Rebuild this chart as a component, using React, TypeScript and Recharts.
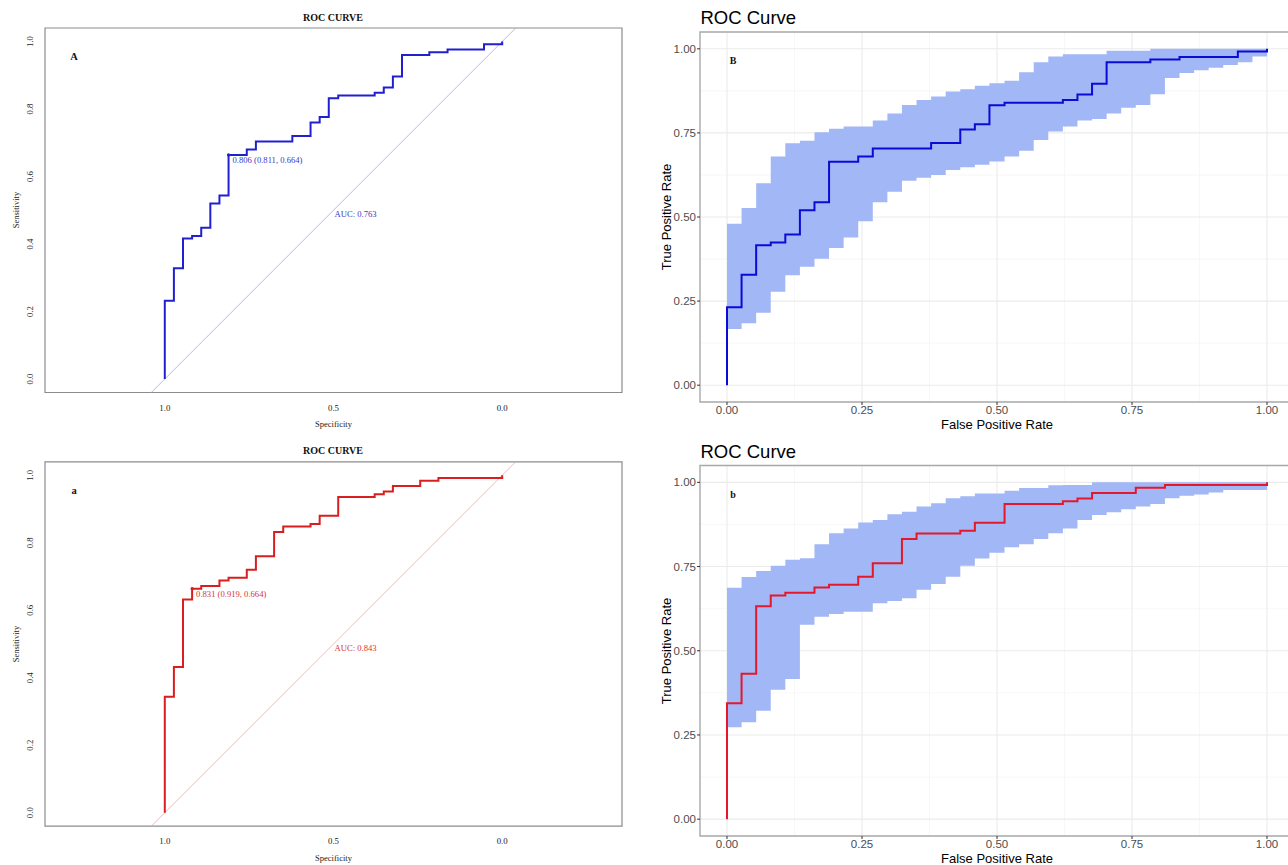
import React from 'react'
import {
  ComposedChart,
  Line,
  Area,
  XAxis,
  YAxis,
  CartesianGrid,
  ReferenceArea,
  ReferenceDot
} from 'recharts'

const SERIF = '"Liberation Serif", "Times New Roman", serif'
const SANS = '"Liberation Sans", Arial, sans-serif'

// ROC curve, model 1 (blue panels) - corners of the step curve
const fpr1 = [0, 0, 0.027, 0.054, 0.081, 0.108, 0.135, 0.162, 0.189, 0.243, 0.270, 0.378, 0.432, 0.459, 0.486, 0.514, 0.622, 0.649, 0.676, 0.703, 0.784, 0.838, 0.946, 1]
const tpr1 = [0, 0.232, 0.328, 0.416, 0.424, 0.448, 0.520, 0.544, 0.664, 0.680, 0.704, 0.720, 0.760, 0.776, 0.832, 0.840, 0.848, 0.864, 0.896, 0.960, 0.968, 0.976, 0.992, 1]

// ROC curve, model 2 (red panels)
const fpr2 = [0, 0, 0.027, 0.054, 0.081, 0.108, 0.162, 0.189, 0.243, 0.270, 0.324, 0.351, 0.432, 0.459, 0.514, 0.622, 0.649, 0.676, 0.757, 0.811, 1]
const tpr2 = [0, 0.344, 0.432, 0.632, 0.664, 0.672, 0.688, 0.696, 0.720, 0.760, 0.832, 0.848, 0.856, 0.880, 0.936, 0.944, 0.952, 0.968, 0.984, 0.992, 1]

// confidence band (ggplot ribbon), one step per negative case
const ciFpr = [0, 0.027, 0.054, 0.081, 0.108, 0.135, 0.162, 0.189, 0.216, 0.243, 0.270, 0.297, 0.324, 0.351, 0.378, 0.405, 0.432, 0.459, 0.486, 0.514, 0.541, 0.568, 0.595, 0.622, 0.649, 0.676, 0.703, 0.730, 0.757, 0.784, 0.811, 0.838, 0.865, 0.892, 0.919, 0.946, 0.973, 1]
const ciLow1 = [0.167, 0.184, 0.215, 0.278, 0.327, 0.352, 0.376, 0.408, 0.439, 0.487, 0.544, 0.575, 0.608, 0.617, 0.625, 0.640, 0.648, 0.655, 0.665, 0.680, 0.697, 0.729, 0.754, 0.769, 0.787, 0.791, 0.808, 0.825, 0.833, 0.865, 0.913, 0.928, 0.936, 0.944, 0.952, 0.960, 0.977, 0.977]
const ciHigh1 = [0.480, 0.527, 0.600, 0.680, 0.719, 0.727, 0.752, 0.762, 0.769, 0.769, 0.787, 0.808, 0.833, 0.848, 0.858, 0.873, 0.880, 0.890, 0.898, 0.905, 0.930, 0.960, 0.977, 0.984, 0.984, 0.984, 0.994, 0.994, 0.994, 1, 1, 1, 1, 1, 1, 1, 1, 1]
const ciLow2 = [0.273, 0.288, 0.322, 0.384, 0.416, 0.577, 0.601, 0.609, 0.616, 0.616, 0.641, 0.648, 0.656, 0.681, 0.698, 0.720, 0.752, 0.774, 0.791, 0.807, 0.816, 0.832, 0.849, 0.863, 0.888, 0.903, 0.911, 0.920, 0.928, 0.936, 0.953, 0.960, 0.964, 0.970, 0.977, 0.977, 0.977, 0.977]
const ciHigh2 = [0.687, 0.719, 0.737, 0.752, 0.770, 0.775, 0.816, 0.849, 0.863, 0.881, 0.888, 0.905, 0.913, 0.928, 0.938, 0.953, 0.959, 0.967, 0.967, 0.975, 0.983, 0.983, 0.991, 0.992, 0.992, 1, 1, 1, 1, 1, 1, 1, 1, 1, 1, 1, 1, 1]

// best threshold: [cutoff, specificity, sensitivity]
const best1 = [0.806, 0.811, 0.664]
const best2 = [0.831, 0.919, 0.664]
const auc1 = 0.763
const auc2 = 0.843

const specTicks = [1, 0.5, 0]
const sensTicks = [0, 0.2, 0.4, 0.6, 0.8, 1]
const rateTicks = [0, 0.25, 0.5, 0.75, 1]
const minorTicks = [0.125, 0.375, 0.625, 0.875]

const SPEC_DOMAIN: [number, number] = [-0.355, 1.355]
const SENS_DOMAIN: [number, number] = [-0.04, 1.04]
const RATE_DOMAIN: [number, number] = [-0.05, 1.05]

const Txt = ({ x, y, children, style, rotate, left }: any) => (
  <div
    style={{
      position: 'absolute',
      left: x,
      top: y,
      transform: `translate(${left ? '0' : '-50%'}, -50%)${rotate ? ' rotate(-90deg)' : ''}`,
      whiteSpace: 'nowrap',
      lineHeight: 1,
      ...style
    }}
  >
    {children}
  </div>
)

const SerifXTick = ({ x, y, payload }: any) => (
  <text x={x} y={y + 15} textAnchor="middle" dominantBaseline="central" fontFamily={SERIF} fontSize={8.8} fill="#222">
    {Number(payload.value).toFixed(1)}
  </text>
)

const SerifYTick = ({ x, y, payload }: any) => (
  <text
    x={x - 15}
    y={y}
    transform={`rotate(-90 ${x - 15} ${y})`}
    textAnchor="middle"
    dominantBaseline="central"
    fontFamily={SERIF}
    fontSize={8.8}
    fill="#222"
  >
    {Number(payload.value).toFixed(1)}
  </text>
)

type ProcProps = {
  top: number
  height: number
  plotTop: number
  axisHeight: number
  fpr: number[]
  tpr: number[]
  best: number[]
  auc: number
  letter: string
  curveColor: string
  textColor: string
  diagColor: string
}

// pROC style panel, specificity on a reversed axis
function ProcPanel({ top, height, plotTop, axisHeight, fpr, tpr, best, auc, letter, curveColor, textColor, diagColor }: ProcProps) {
  const curve = fpr.map((f, i) => ({ spec: 1 - f, sens: tpr[i] }))
  const diag = [
    { spec: 1.2, sens: -0.2 },
    { spec: -0.2, sens: 1.2 }
  ]
  const labelStyle = { fontFamily: SERIF, fontSize: 8.6, fill: textColor }
  const plotBottom = height - axisHeight

  return (
    <div style={{ position: 'absolute', left: 0, top, width: 640, height }}>
      <ComposedChart width={640} height={height} margin={{ top: plotTop, right: 18, bottom: 0, left: 0 }}>
        <XAxis
          type="number"
          dataKey="spec"
          domain={SPEC_DOMAIN}
          reversed
          allowDataOverflow
          ticks={specTicks}
          interval={0}
          tick={<SerifXTick />}
          tickSize={0}
          tickMargin={0}
          tickLine={false}
          axisLine={false}
          height={axisHeight}
        />
        <YAxis
          type="number"
          dataKey="sens"
          domain={SENS_DOMAIN}
          allowDataOverflow
          ticks={sensTicks}
          interval={0}
          tick={<SerifYTick />}
          tickSize={0}
          tickMargin={0}
          tickLine={false}
          axisLine={false}
          width={45}
        />
        <ReferenceArea
          x1={SPEC_DOMAIN[0]}
          x2={SPEC_DOMAIN[1]}
          y1={SENS_DOMAIN[0]}
          y2={SENS_DOMAIN[1]}
          fill="none"
          stroke="#8c8c8c"
          strokeWidth={1.2}
          ifOverflow="visible"
        />
        <Line data={diag} dataKey="sens" stroke={diagColor} strokeWidth={0.8} dot={false} isAnimationActive={false} />
        <Line data={curve} dataKey="sens" type="stepAfter" stroke={curveColor} strokeWidth={2} dot={false} isAnimationActive={false} />
        <ReferenceDot
          x={best[1]}
          y={best[2]}
          shape={(p: any) => (
            <g>
              <circle cx={p.cx} cy={p.cy} r={1.6} fill={curveColor} />
              <text x={p.cx + 4} y={p.cy + 5.5} dominantBaseline="central" {...labelStyle}>
                {`${best[0].toFixed(3)} (${best[1].toFixed(3)}, ${best[2].toFixed(3)})`}
              </text>
            </g>
          )}
        />
        <ReferenceDot
          x={0.5}
          y={0.5}
          shape={(p: any) => (
            <text x={p.cx + 1} y={p.cy + 3.5} dominantBaseline="central" {...labelStyle}>
              {`AUC: ${auc.toFixed(3)}`}
            </text>
          )}
        />
      </ComposedChart>
      <Txt x={333} y={plotTop - 10.5} style={{ fontFamily: SERIF, fontSize: 10, fontWeight: 'bold', color: '#111' }}>
        ROC CURVE
      </Txt>
      <Txt x={74} y={plotTop + 29} style={{ fontFamily: SERIF, fontSize: 10.5, fontWeight: 'bold', color: '#111' }}>
        {letter}
      </Txt>
      <Txt x={15.5} rotate y={(plotTop + plotBottom) / 2} style={{ fontFamily: SERIF, fontSize: 8.5, color: '#222' }}>
        Sensitivity
      </Txt>
      <Txt x={333.5} y={plotBottom + 31.5} style={{ fontFamily: SERIF, fontSize: 8.5, color: '#222' }}>
        Specificity
      </Txt>
    </div>
  )
}

type GgProps = {
  top: number
  height: number
  plotTop: number
  axisHeight: number
  fpr: number[]
  tpr: number[]
  low: number[]
  high: number[]
  letter: string
  curveColor: string
}

// ggplot style panel with the bootstrap ribbon
function GgPanel({ top, height, plotTop, axisHeight, fpr, tpr, low, high, letter, curveColor }: GgProps) {
  const band = ciFpr.map((f, i) => ({ fpr: f, ci: [low[i], high[i]] }))
  const curve = fpr.map((f, i) => ({ fpr: f, tpr: tpr[i] }))
  const plotBottom = height - axisHeight
  const tickStyle = { fill: '#4D4D4D', fontSize: 11.5, fontFamily: SANS }

  return (
    <div style={{ position: 'absolute', left: 640, top, width: 660, height }}>
      <ComposedChart width={660} height={height} data={band} margin={{ top: plotTop, right: 6, bottom: 0, left: 0 }}>
        <CartesianGrid horizontalValues={minorTicks} verticalValues={minorTicks} stroke="#F3F3F3" strokeWidth={0.7} />
        <CartesianGrid horizontalValues={rateTicks} verticalValues={rateTicks} stroke="#EBEBEB" strokeWidth={1.1} />
        <XAxis
          type="number"
          dataKey="fpr"
          domain={RATE_DOMAIN}
          allowDataOverflow
          ticks={rateTicks}
          interval={0}
          tickFormatter={(v: number) => v.toFixed(2)}
          tick={tickStyle}
          tickSize={3}
          tickMargin={1}
          tickLine={{ stroke: '#333' }}
          axisLine={false}
          height={axisHeight}
        />
        <YAxis
          type="number"
          domain={RATE_DOMAIN}
          allowDataOverflow
          ticks={rateTicks}
          interval={0}
          tickFormatter={(v: number) => v.toFixed(2)}
          tick={tickStyle}
          tickSize={3}
          tickMargin={1}
          tickLine={{ stroke: '#333' }}
          axisLine={false}
          width={60}
        />
        <Area dataKey="ci" type="stepAfter" stroke="none" fill="#A2B7F5" fillOpacity={1} isAnimationActive={false} />
        <Line data={curve} dataKey="tpr" type="stepAfter" stroke={curveColor} strokeWidth={2} dot={false} isAnimationActive={false} />
        <ReferenceArea
          x1={RATE_DOMAIN[0]}
          x2={RATE_DOMAIN[1]}
          y1={RATE_DOMAIN[0]}
          y2={RATE_DOMAIN[1]}
          fill="none"
          stroke="#A8A8A8"
          strokeWidth={1.4}
          ifOverflow="visible"
        />
      </ComposedChart>
      <Txt x={60.5} left y={plotTop - 14} style={{ fontFamily: SANS, fontSize: 18.5, color: '#000' }}>
        ROC Curve
      </Txt>
      <Txt x={93} y={plotTop + 29} style={{ fontFamily: SERIF, fontSize: 10, fontWeight: 'bold', color: '#111' }}>
        {letter}
      </Txt>
      <Txt x={25.6} rotate y={(plotTop + plotBottom) / 2} style={{ fontFamily: SANS, fontSize: 13, color: '#000' }}>
        True Positive Rate
      </Txt>
      <Txt x={357} y={plotBottom + 22} style={{ fontFamily: SANS, fontSize: 13, color: '#000' }}>
        False Positive Rate
      </Txt>
    </div>
  )
}

export default function App() {
  return (
    <div style={{ position: 'absolute', left: 0, top: 0, width: 1288, height: 865, overflow: 'hidden', background: '#fff' }}>
      <ProcPanel
        top={0}
        height={435}
        plotTop={28}
        axisHeight={42.5}
        fpr={fpr1}
        tpr={tpr1}
        best={best1}
        auc={auc1}
        letter="A"
        curveColor="#2020CF"
        textColor="#3838C4"
        diagColor="#A6A6E6"
      />
      <GgPanel
        top={0}
        height={435}
        plotTop={32}
        axisHeight={33}
        fpr={fpr1}
        tpr={tpr1}
        low={ciLow1}
        high={ciHigh1}
        letter="B"
        curveColor="#0B0BD6"
      />
      <ProcPanel
        top={435}
        height={430}
        plotTop={26.8}
        axisHeight={38.8}
        fpr={fpr2}
        tpr={tpr2}
        best={best2}
        auc={auc2}
        letter="a"
        curveColor="#D81E1E"
        textColor="#D43434"
        diagColor="#F0A4A4"
      />
      <GgPanel
        top={435}
        height={430}
        plotTop={30.5}
        axisHeight={29}
        fpr={fpr2}
        tpr={tpr2}
        low={ciLow2}
        high={ciHigh2}
        letter="b"
        curveColor="#E4182A"
      />
    </div>
  )
}
